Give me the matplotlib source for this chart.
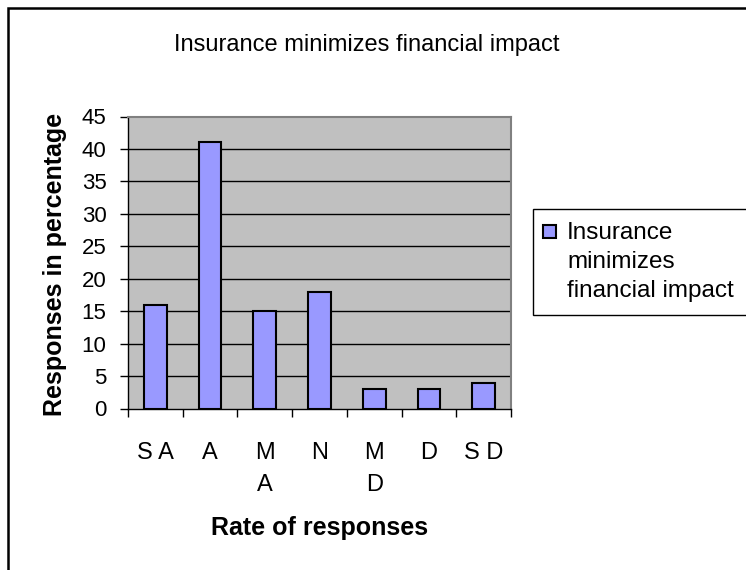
import matplotlib.pyplot as plt
from matplotlib.patches import Rectangle
from matplotlib.transforms import blended_transform_factory

plt.rcParams["font.family"] = ["Liberation Sans", "DejaVu Sans"]

# data
categories = ["S A", "A", "M\nA", "N", "M\nD", "D", "S D"]
responses = [16, 41, 15, 18, 3, 3, 4]
series_name = "Insurance\nminimizes\nfinancial impact"
y_ticks = [0, 5, 10, 15, 20, 25, 30, 35, 40, 45]

BAR_COLOR = "#9999FF"
W, H = 746, 570


def fx(px):
    return px / W


def fy(py):
    return 1 - py / H


fig = plt.figure(figsize=(W / 100, H / 100), dpi=100)

# outer chart border (runs off right and bottom edges)
fig.patches.append(Rectangle((fx(8), -0.1), 1.2, fy(8) + 0.1,
                             transform=fig.transFigure, fill=False,
                             edgecolor="black", linewidth=1.8))

ax = fig.add_axes([fx(128), fy(408.5), fx(511 - 128), (408.5 - 116.5) / H])
ax.set_facecolor("#C0C0C0")

x = range(len(categories))
ax.bar(x, responses, width=0.415, color=BAR_COLOR, edgecolor="black",
       linewidth=1.5, zorder=3)

ax.set_xlim(-0.5, len(categories) - 0.5)
ax.set_ylim(0, 45)
ax.set_yticks(y_ticks)
ax.tick_params(axis="y", direction="out", length=5.5, width=1, labelsize=16, pad=10)

# category labels sit between the boundary ticks
ax.set_xticks([i - 0.5 for i in range(len(categories) + 1)])
ax.set_xticklabels([])
ax.tick_params(axis="x", direction="out", length=6, width=1)
lab_tr = blended_transform_factory(ax.transData, fig.transFigure)
for i, lab in enumerate(categories):
    ax.text(i, fy(442), lab, ha="center", va="top", fontsize=17,
            linespacing=1.6, transform=lab_tr)

for y in y_ticks[1:-1]:
    ax.axhline(y, color="black", linewidth=1, zorder=1)

for side in ["left", "bottom"]:
    ax.spines[side].set_color("black")
    ax.spines[side].set_linewidth(1)
for side in ["top", "right"]:
    ax.spines[side].set_color("#808080")
    ax.spines[side].set_linewidth(1.5)

ax.set_ylabel("Responses in percentage", fontsize=18, fontweight="bold")
ax.yaxis.set_label_coords(fx(55), fy(264), transform=fig.transFigure)
ax.yaxis.label.set_va("center")
ax.set_xlabel("Rate of responses", fontsize=18, fontweight="bold")
ax.xaxis.set_label_coords(fx(320), fy(535), transform=fig.transFigure)
ax.xaxis.label.set_va("baseline")

fig.text(fx(367), fy(51), "Insurance minimizes financial impact",
         ha="center", va="baseline", fontsize=17)

# legend drawn by hand so the marker sits on the first text line
fig.patches.append(Rectangle((fx(533), fy(315)), 1.0, (315 - 209) / H,
                             transform=fig.transFigure, facecolor="white",
                             edgecolor="black", linewidth=1))
fig.patches.append(Rectangle((fx(543), fy(238)), fx(13), 13 / H,
                             transform=fig.transFigure, facecolor=BAR_COLOR,
                             edgecolor="black", linewidth=1.5))
fig.text(fx(567), fy(222), series_name, ha="left", va="top",
         fontsize=17.5, linespacing=1.4)

fig.savefig("out.png", dpi=100)
